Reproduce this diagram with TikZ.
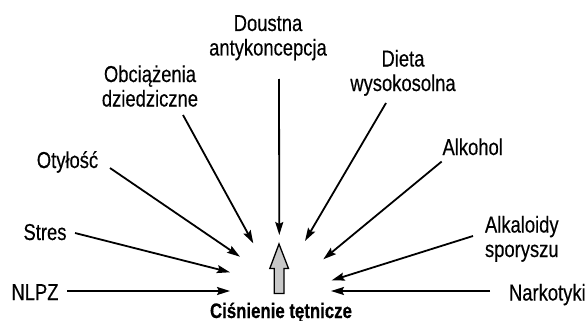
\documentclass[tikz,border=0pt]{standalone}
\usepackage{fontspec}
\setmainfont{Liberation Sans}[FakeStretch=0.8, UprightFeatures={FakeBold=0.35}, BoldFeatures={FakeBold=0.5}]
\usetikzlibrary{arrows.meta}
\definecolor{arrowfill}{RGB}{200,200,200}
\tikzset{
  lbl/.style={inner sep=0pt, outer sep=0pt, align=center, anchor=base,
    font=\fontsize{23}{24.5}\selectfont},
  lbll/.style={lbl, align=left, anchor=base west},
  arr/.style={line width=1.8pt, -{Stealth[length=13pt, width=8pt, inset=2pt]}},
  title/.style={inner sep=0pt, outer sep=0pt, anchor=base,
    font=\fontsize{21}{23}\selectfont\bfseries},
}
\begin{document}
\begin{tikzpicture}[x=1pt,y=-1pt]
\useasboundingbox (0,0) rectangle (586,321);
% labels
\node[lbl] (dou) at (268,55.5) {Doustna\\antykoncepcja};
\node[lbl] (obc) at (150,106.5) {Obciążenia\\dziedziczne};
\node[lbl] (oty) at (67.5,168) {Otyłość};
\node[lbl] (die) at (403,91) {Dieta\\wysokosolna};
\node[lbl] (alk) at (472.7,155) {Alkohol};
\node[lbl] (str) at (45,240) {Stres};
\node[lbl] (nlp) at (35,300) {NLPZ};
\node[lbll] (alp) at (485,257) {Alkaloidy\\sporyszu};
\node[lbll] (nar) at (509,300.5) {Narkotyki};
\node[title] (cis) at (281,318) {Ciśnienie tętnicze};
% arrow tips
\coordinate (tdou) at (279.3,235);
\coordinate (tobc) at (253.3,243.3);
\coordinate (toty) at (240,256.7);
\coordinate (tdie) at (305,241);
\coordinate (talk) at (323.3,259.3);
\coordinate (tstr) at (230,272.3);
\coordinate (tnlp) at (230,291);
\coordinate (talp) at (331.5,280.5);
\coordinate (tnar) at (331,291);
% connectors
\draw[arr] ([shift={(11,23.5)}]dou.base) -- (tdou);
\draw[arr] ([shift={(33,8.5)}]obc.base) -- (tobc);
\draw[arr] ([shift={(42.5,0)}]oty.base) -- (toty);
\draw[arr] ([shift={(-17,12)}]die.base) -- (tdie);
\draw[arr] ([shift={(-31,6.5)}]alk.base) -- (talk);
\draw[arr] ([shift={(30,-7)}]str.base) -- (tstr);
\draw[arr] ([shift={(32,-9)}]nlp.base) -- (tnlp);
\draw[arr] ([shift={(-12,-21)}]alp.base west) -- (talp);
\draw[arr] ([shift={(-19,-9.5)}]nar.base west) -- (tnar);
% block arrow
\draw[line width=1.3pt, fill=arrowfill, line join=miter]
  (279,244) -- (288.5,268.5) -- (284,268.5) -- (284,293.5) -- (274.3,293.5)
  -- (274.3,268.5) -- (269.8,268.5) -- cycle;
\end{tikzpicture}
\end{document}
